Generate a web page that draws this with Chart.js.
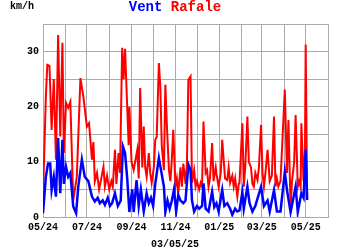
<!DOCTYPE html>
<html>
<head>
<meta charset="utf-8">
<script src="https://cdn.jsdelivr.net/npm/chart.js@4"></script>
<style>
  html, body { margin: 0; padding: 0; background: #fff; }
  #wind { display: block; }
</style>
</head>
<body>
<canvas id="wind" width="350" height="250"></canvas>
<script>
// days counted from 01/05/24
const monthDays = [0, 31, 61, 92, 123, 153, 184, 214, 245, 276, 304, 335, 365, 396];
const monthLabels = ['05/24', '', '07/24', '', '09/24', '', '11/24', '', '01/25', '', '03/25', '', '05/25', ''];
const yLabels = [0, 10, 20, 30];

// Vent (km/h)
const ventDays = [0, 4, 7, 10, 12, 15, 18, 21, 24, 27, 29, 32, 35, 38, 42, 46, 49, 54, 58, 63,
  68, 72, 76, 79, 83, 86, 90, 93, 96, 100, 104, 108, 111, 114, 117, 120, 124, 126, 130, 133,
  136, 140, 144, 147, 150, 153, 156, 161, 164, 168, 170, 173, 176, 179, 182, 185, 188, 191, 195, 198,
  202, 205, 207, 210, 214, 217, 221, 223, 226, 230, 235, 238, 241, 244, 249, 252, 256, 260, 263, 267,
  270, 273, 277, 279, 284, 287, 291, 295, 303, 307, 312, 315, 321, 325, 330, 336, 339, 344, 348, 351,
  354, 359, 362, 365, 367];
const ventKmh = [0.7, 7.3, 9.7, 9.7, 4.9, 7.3, 3.7, 14.3, 4.3, 14, 6, 9.1, 7.3, 8, 1.9, 0.7, 5.5, 10.4, 7.3, 6.5,
  3.7, 2.8, 3.5, 2.5, 3, 2.2, 3.5, 2, 2.5, 4.3, 2, 3, 12.8, 11.6, 7, 0.9, 5, 0.9, 6.7, 2,
  5, 1, 4.3, 2.5, 3.5, 2, 6, 10.7, 8.5, 5.5, 0.9, 3, 1.5, 3, 5, 1, 4, 3, 2.5, 3,
  9.5, 8.5, 3, 1, 2, 1.5, 2, 6.1, 1.5, 1, 4.6, 1.8, 2.5, 1, 4.9, 2, 2.5, 1.5, 0.4, 1.5,
  1, 1.2, 4.5, 1.5, 5.5, 2.5, 1, 2, 5.5, 2, 3, 1, 4.9, 1, 1, 8.2, 4.9, 0.9, 3.5, 5.5,
  0.9, 4.3, 3.5, 12.2, 3.1];

// Rafale (km/h)
const rafaleDays = [0, 4, 6, 9, 12, 15, 18, 21, 24, 27, 29, 32, 35, 38, 42, 47, 52, 56, 61, 64,
  68, 70, 72, 75, 78, 81, 84, 86, 89, 92, 95, 97, 100, 102, 105, 107, 110, 112, 114, 117,
  119, 120, 123, 126, 128, 131, 133, 135, 138, 140, 142, 144, 147, 149, 151, 154, 156, 158, 161, 163,
  165, 168, 170, 172, 175, 177, 179, 181, 184, 186, 188, 191, 193, 195, 198, 200, 202, 205, 207, 210,
  212, 214, 217, 219, 221, 223, 226, 228, 230, 232, 235, 237, 240, 241, 244, 247, 249, 251, 253, 256,
  258, 260, 263, 265, 267, 270, 272, 273, 277, 279, 281, 284, 286, 289, 291, 293, 295, 298, 300, 303,
  305, 307, 309, 312, 315, 318, 321, 323, 325, 327, 330, 334, 336, 339, 341, 344, 346, 349, 351, 354,
  356, 358, 359, 362, 364, 365, 367];
const rafaleKmh = [3.7, 21.9, 27.6, 27.4, 15.8, 25, 10.4, 33, 14.6, 31.6, 11.6, 20.7, 19.8, 20.9, 3, 7.3, 25.2, 21.9, 16.4, 17,
  10.4, 13.6, 6.5, 8, 5, 7, 9.1, 5.5, 7.5, 5, 6.5, 5.5, 12.2, 6, 11.6, 8, 30.7, 25, 30.5, 20,
  13, 20, 10, 8.5, 10, 12.2, 7, 23.4, 9, 16.4, 9, 7.3, 11.6, 8, 6.2, 9, 14, 14.5, 27.9, 23.7,
  13, 8.5, 24, 17, 8.5, 6.5, 10.4, 15.8, 5.5, 7, 4.3, 9, 5.5, 9.7, 6, 9.7, 24.9, 25.5, 6.2, 8.5,
  5.5, 6.5, 5, 6.2, 5.5, 17.3, 8, 8.5, 5.5, 7, 13.4, 6.5, 9, 7.9, 5.5, 8, 14, 10.4, 7, 6.7,
  9, 6.2, 7.5, 5.5, 7, 3.7, 6, 6.2, 17, 5.5, 9, 18.2, 10, 9, 6, 5.5, 8, 6.7, 9, 16.7,
  8, 5.5, 7.9, 12.2, 6.5, 7.5, 18.2, 5.5, 7, 5.5, 6.5, 17.6, 23.1, 8, 17.6, 1.9, 6.5, 10, 18.5, 5.5,
  6.5, 5.5, 17, 6.5, 12, 31.3, 3.1];

const FONT = '"Liberation Mono", "DejaVu Sans Mono", monospace';

function toPoints(days, values) {
    return days.map(function(d, i) { return { x: d, y: values[i] }; });
}

// title, unit and date drawn on the canvas
const textPlugin = {
    id: 'windTexts',
    afterDraw: function(chart) {
        const c = chart.ctx;
        c.save();
        c.textBaseline = 'middle';
        c.font = 'bold 10px ' + FONT;
        c.fillStyle = '#000';
        c.textAlign = 'left';
        c.fillText('km/h', 10, 6);

        c.font = 'bold 14px ' + FONT;
        const a = 'Vent ';
        const b = 'Rafale';
        const w = c.measureText(a + b).width;
        const x0 = 175 - w / 2;
        c.fillStyle = '#0000ff';
        c.fillText(a, x0, 7);
        c.fillStyle = '#ff0000';
        c.fillText(b, x0 + c.measureText(a).width, 7);

        c.font = 'bold 10px ' + FONT;
        c.fillStyle = '#000';
        c.textAlign = 'center';
        c.fillText('03/05/25', 175, 244);
        c.restore();
    }
};

const ctx = document.getElementById('wind').getContext('2d');
new Chart(ctx, {
    type: 'line',
    data: {
        datasets: [{
            label: 'Vent',
            data: toPoints(ventDays, ventKmh),
            borderColor: '#0000ff',
            borderWidth: 2.5,
            pointRadius: 0,
            tension: 0
        }, {
            label: 'Rafale',
            data: toPoints(rafaleDays, rafaleKmh),
            borderColor: '#ff0000',
            borderWidth: 2,
            pointRadius: 0,
            tension: 0
        }]
    },
    options: {
        responsive: false,
        animation: false,
        layout: { padding: { top: 24, right: 22, left: 0, bottom: 0 } },
        plugins: {
            legend: { display: false },
            tooltip: { enabled: false }
        },
        scales: {
            x: {
                type: 'linear',
                min: 0,
                max: 396,
                afterBuildTicks: function(scale) {
                    scale.ticks = monthDays.map(function(v) { return { value: v }; });
                },
                afterFit: function(scale) { scale.height = 33; },
                grid: { color: '#aaaaaa', lineWidth: 1, drawTicks: false },
                border: { color: '#aaaaaa' },
                ticks: {
                    autoSkip: false,
                    maxRotation: 0,
                    padding: 4,
                    color: '#000',
                    font: { family: FONT, size: 10, weight: 'bold' },
                    callback: function(value) {
                        const i = monthDays.indexOf(value);
                        return i >= 0 ? monthLabels[i] : '';
                    }
                }
            },
            y: {
                min: 0,
                max: 35,
                afterFit: function(scale) { scale.width = 43; },
                grid: { color: '#aaaaaa', lineWidth: 1, drawTicks: false },
                border: { color: '#aaaaaa' },
                ticks: {
                    stepSize: 5,
                    padding: 4,
                    color: '#000',
                    font: { family: FONT, size: 10, weight: 'bold' },
                    callback: function(value) {
                        return yLabels.indexOf(value) >= 0 ? value : '';
                    }
                }
            }
        }
    },
    plugins: [textPlugin]
});
</script>
</body>
</html>
